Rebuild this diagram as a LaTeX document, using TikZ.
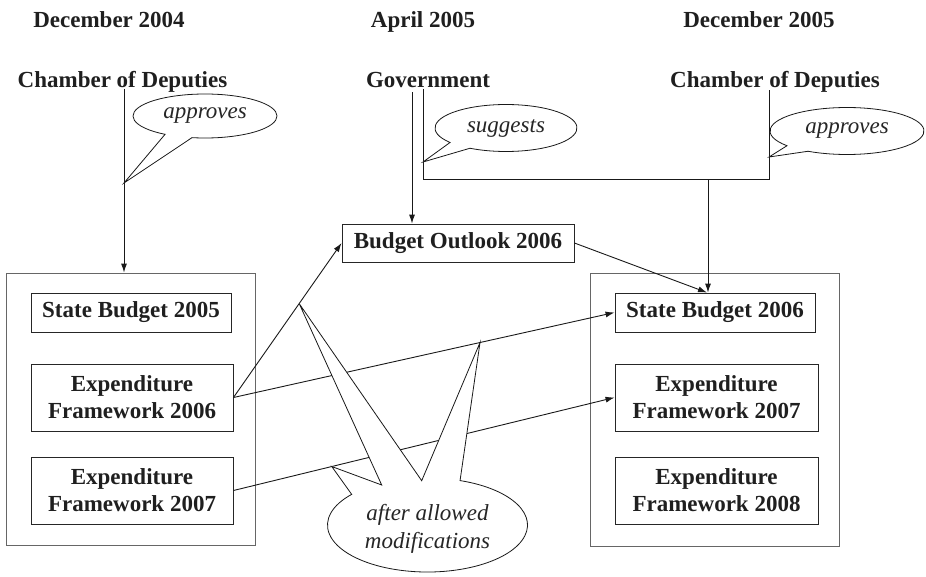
\documentclass[tikz,border=0pt]{standalone}
\usepackage{fontspec}
\setmainfont{Liberation Serif}
\usetikzlibrary{arrows.meta,calc}
\newcommand\mycallout[8]{% name, center, a, b, t1, t2, tip, text
  \path (#2) ++(#5:#3 and #4) coordinate (#1s);
  \draw[bubble] (#1s) arc[start angle=#5, end angle=#6, x radius=#3, y radius=#4] -- (#7) -- cycle;
  \node[btext] (#1) at (#2) {#8};
}
\begin{document}
\begin{tikzpicture}[x=1pt,y=-1pt,
  txt/.style={font=\fontsize{23}{27}\selectfont},
  hdr/.style={txt, font=\fontsize{23}{27}\selectfont\bfseries, anchor=base, inner sep=0pt, text=black!88},
  outer/.style={draw=black!60, line width=0.9pt, inner sep=0pt},
  inbox/.style={draw=black!85, line width=0.9pt, inner sep=0pt, align=center,
    font=\fontsize{23}{27}\selectfont\bfseries, text=black!88},
  conn/.style={line width=0.9pt, black!90},
  arr/.style={conn, -{Latex[length=9pt,width=6pt]}},
  bubble/.style={draw=black!90, fill=white, line width=0.8pt},
  btext/.style={font=\fontsize{23}{28}\selectfont\itshape, align=center, inner sep=0pt, text=black!85}]
\useasboundingbox (0,0) rectangle (926,576);

% headers
\node[hdr] (dec04) at (109,27) {December 2004};
\node[hdr] (apr05) at (423,27) {April 2005};
\node[hdr] (dec05) at (759,27) {December 2005};
\node[hdr] (cham1) at (122.5,87) {Chamber of Deputies};
\node[hdr] (gov) at (428,87) {Government};
\node[hdr] (cham2) at (775,87) {Chamber of Deputies};

% outer boxes
\node[outer, minimum width=249pt, minimum height=272pt] (lbox) at (130.5,409) {};
\node[outer, minimum width=249pt, minimum height=273pt] (rbox) at (714.5,409.5) {};

% inner boxes
\node[inbox, minimum width=200pt, minimum height=39pt] (sb05) at (131,312.5) {State Budget 2005};
\node[inbox, minimum width=202pt, minimum height=67pt] (ef06) at (132,397.5) {Expenditure\\Framework 2006};
\node[inbox, minimum width=202pt, minimum height=67pt] (ef07) at (132,490.5) {Expenditure\\Framework 2007};
\node[inbox, minimum width=200pt, minimum height=39pt] (sb06) at (715,312.5) {State Budget 2006};
\node[inbox, minimum width=203pt, minimum height=67pt] (ef07r) at (716.5,397.5) {Expenditure\\Framework 2007};
\node[inbox, minimum width=203pt, minimum height=67pt] (ef08) at (716.5,490.5) {Expenditure\\Framework 2008};
\node[inbox, minimum width=232pt, minimum height=38pt] (bo) at (458,243) {Budget Outlook 2006};

% connectors
\coordinate (p1) at (124,89);
\draw[arr] (p1) -- (p1 |- lbox.north);
\coordinate (g1) at (412,92);
\draw[arr] (g1) -- (g1 |- bo.north);
\coordinate (g2) at (423,89);
\coordinate (c2) at (769,90);
\coordinate (j) at (708,179);
\draw[conn] (g2) |- (c2 |- j) -- (c2);
\draw[arr] (j) -- (j |- sb06.north);
\draw[arr] (bo.east) -- ($(sb06.north -| j)+(-1,0)$);
\draw[arr] (ef06.east) -- (bo.west);
\draw[arr] (ef06.east) -- (sb06.west);
\draw[arr] (ef07.east) -- (ef07r.west);

% small callouts
\mycallout{ap1}{205,116}{72}{22}{123.7}{460.4}{124,183}{approves}
\mycallout{sug}{506,128}{71}{23.5}{142}{480.5}{423,162}{suggests}
\mycallout{ap2}{847,131}{77}{23.5}{141.2}{480.4}{769,157}{approves}

% big callout
\coordinate (bc) at (427.5,525);
\coordinate (bC) at ($(ef07.east)!0.258!(ef07r.west)$);
\coordinate (bB) at (381.7,485);
\coordinate (bT1) at ($(ef06.east)!0.608!(bo.west)$);
\coordinate (bD) at (421.7,480.7);
\coordinate (bT2) at ($(ef06.east)!0.647!(sb06.west)$);
\path (bc) ++(-71:100 and 47) coordinate (bE);
\draw[bubble] (bE) arc[start angle=-71, end angle=220.7, x radius=100, y radius=47]
  -- (bC) -- (bB) -- (bT1) -- (bD) -- (bT2) -- cycle;
\node[btext] (mod) at (427.5,528.5) {after allowed\\modifications};
\end{tikzpicture}
\end{document}
